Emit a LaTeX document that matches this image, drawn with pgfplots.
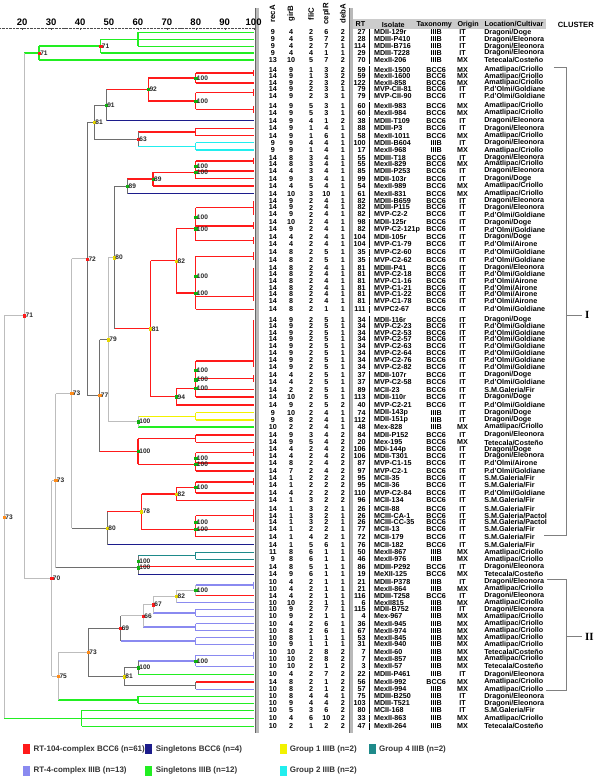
\documentclass[border=0pt]{standalone}
\usepackage{fontspec}
\setmainfont{Liberation Sans}
\newfontfamily\serifI{Liberation Serif}
\usepackage{pgfplots}
\usepackage{pgfplotstable}
\pgfplotsset{compat=1.18}
\definecolor{cR}{HTML}{FF1A1A}
\definecolor{cN}{HTML}{1C1C8C}
\definecolor{cY}{HTML}{F2F200}
\definecolor{cT}{HTML}{1E8A8A}
\definecolor{cL}{HTML}{8A8AF0}
\definecolor{cG}{HTML}{22EE22}
\definecolor{cC}{HTML}{22EEEE}
\definecolor{gD}{HTML}{6E6E6E}
\definecolor{gL}{HTML}{BDBDBD}
\definecolor{dO}{HTML}{FF8C1A}
\definecolor{dY}{HTML}{E8D800}
\definecolor{dG}{HTML}{10B010}
\newcommand\tf{\bfseries\fontsize{7.2}{7.5}\selectfont}
\pgfplotstableread{
y rA gB fC cR dA rt iso tax org loc col
32.5 9 4 2 6 2 27 MDII-129r IIIB IT Dragoni/Doge g
39.5 9 4 5 7 2 28 MDIII-P410 IIIB IT Dragoni/Eleonora g
46.5 9 4 2 7 1 114 MDIII-B716 IIIB IT Dragoni/Eleonora g
53 9 4 4 1 1 29 MDIII-T228 IIIB IT Dragoni/Eleonora g
60 13 10 5 7 2 70 MexII-206 IIIB MX Tetecala/Costeño g
70 14 9 1 3 2 59 MexII-1500 BCC6 MX Amatlipac/Criollo r
76.5 14 9 1 3 2 59 MexII-1600 BCC6 MX Amatlipac/Criollo r
83 14 9 2 3 2 122 MexII-858 BCC6 MX Amatlipac/Criollo r
89.5 14 9 2 3 1 79 MVP-CII-81 BCC6 IT P.d'Olmi/Goldiane r
96 14 9 2 3 1 79 MVP-CII-90 BCC6 IT P.d'Olmi/Goldiane r
106 14 9 5 3 1 60 MexII-983 BCC6 MX Amatlipac/Criollo r
113 14 9 5 3 1 60 MexII-984 BCC6 MX Amatlipac/Criollo r
121 14 9 4 1 2 38 MDIII-T109 BCC6 IT Dragoni/Eleonora n
128.5 14 9 1 4 1 88 MDIII-P3 BCC6 IT Dragoni/Eleonora r
136 14 9 1 6 1 58 MexII-1011 BCC6 MX Amatlipac/Criollo r
143 9 9 4 4 1 100 MDIII-B604 IIIB IT Dragoni/Eleonora c
150.5 9 9 1 4 1 17 MexII-968 IIIB MX Amatlipac/Criollo c
158 14 8 3 4 1 55 MDIII-T18 BCC6 IT Dragoni/Eleonora r
164.5 14 8 3 4 1 55 MexII-829 BCC6 MX Amatlipac/Criollo r
171.5 14 4 3 4 1 85 MDIII-P253 BCC6 IT Dragoni/Eleonora r
179 14 9 3 4 1 99 MDII-103r BCC6 IT Dragoni/Doge r
186.5 14 4 5 4 1 54 MexII-989 BCC6 MX Amatlipac/Criollo r
194 14 10 3 10 1 61 MexII-831 BCC6 MX Amatlipac/Criollo n
201.5 14 9 2 4 1 82 MDIII-B659 BCC6 IT Dragoni/Eleonora r
208 14 9 2 4 1 82 MDIII-P115 BCC6 IT Dragoni/Eleonora r
215 14 9 2 4 1 82 MVP-C2-2 BCC6 IT P.d'Olmi/Goldiane r
223 14 10 2 4 1 98 MDII-125r BCC6 IT Dragoni/Doge r
230 14 9 2 4 1 82 MVP-C2-121p BCC6 IT P.d'Olmi/Goldiane r
237.5 14 4 2 4 1 104 MDII-105r BCC6 IT Dragoni/Doge r
245 14 4 2 4 1 104 MVP-C1-79 BCC6 IT P.d'Olmi/Airone r
253 14 8 2 5 1 35 MVP-C2-60 BCC6 IT P.d'Olmi/Goldiane r
261 14 8 2 5 1 35 MVP-C2-62 BCC6 IT P.d'Olmi/Goldiane r
268.5 14 8 2 4 1 81 MDIII-P41 BCC6 IT Dragoni/Eleonora r
275 14 8 2 4 1 81 MVP-C2-18 BCC6 IT P.d'Olmi/Goldiane r
281.7 14 8 2 4 1 81 MVP-C1-16 BCC6 IT P.d'Olmi/Airone r
288.4 14 8 2 4 1 81 MVP-C1-21 BCC6 IT P.d'Olmi/Airone r
295.1 14 8 2 4 1 81 MVP-C1-22 BCC6 IT P.d'Olmi/Airone r
301.8 14 8 2 4 1 81 MVP-C1-78 BCC6 IT P.d'Olmi/Airone r
310 14 8 2 1 1 111 MVPC2-67 BCC6 IT P.d'Olmi/Goldiane r
320.5 14 9 2 5 1 34 MDII-116r BCC6 IT Dragoni/Doge r
327 14 9 2 5 1 34 MVP-C2-23 BCC6 IT P.d'Olmi/Goldiane r
333.5 14 9 2 5 1 34 MVP-C2-53 BCC6 IT P.d'Olmi/Goldiane r
340 14 9 2 5 1 34 MVP-C2-57 BCC6 IT P.d'Olmi/Goldiane r
346.8 14 9 2 5 1 34 MVP-C2-63 BCC6 IT P.d'Olmi/Goldiane r
353.6 14 9 2 5 1 34 MVP-C2-64 BCC6 IT P.d'Olmi/Goldiane r
360.5 14 9 2 5 1 34 MVP-C2-76 BCC6 IT P.d'Olmi/Goldiane r
367.5 14 9 2 5 1 34 MVP-C2-82 BCC6 IT P.d'Olmi/Goldiane r
376 14 4 2 5 1 37 MDII-107r BCC6 IT Dragoni/Doge r
383 14 4 2 5 1 37 MVP-C2-58 BCC6 IT P.d'Olmi/Goldiane r
390.5 14 2 2 5 1 89 MCII-23 BCC6 IT S.M.Galeria/Fir r
398 14 10 2 5 1 113 MDII-110r BCC6 IT Dragoni/Doge r
406 14 9 2 5 2 40 MVP-C2-21 BCC6 IT P.d'Olmi/Goldiane r
413.5 9 10 2 4 1 74 MDII-143p IIIB IT Dragoni/Doge y
421 9 8 2 4 1 112 MDII-151p IIIB IT Dragoni/Doge y
428 10 2 2 4 1 48 Mex-828 IIIB MX Amatlipac/Criollo g
436 14 9 3 4 2 84 MDII-P152 BCC6 IT Dragoni/Eleonora r
443.5 14 9 5 4 2 20 Mex-195 BCC6 MX Tetecala/Costeño r
450.5 14 4 2 4 2 106 MDi-144p BCC6 IT Dragoni/Doge r
457 14 4 2 4 2 106 MDII-T301 BCC6 IT Dragoni/Eleonora r
464 14 8 2 4 2 87 MVP-C1-15 BCC6 IT P.d'Olmi/Airone r
472 14 7 2 4 2 97 MVP-C2-1 BCC6 IT P.d'Olmi/Goldiane r
479.5 14 1 2 2 2 95 MCII-35 BCC6 IT S.M.Galeria/Fir r
486.5 14 1 2 2 2 95 MCII-36 BCC6 IT S.M.Galeria/Fir r
494 14 4 2 2 2 110 MVP-C2-84 BCC6 IT P.d'Olmi/Goldiane r
501.5 14 1 3 2 2 96 MCII-134 BCC6 IT S.M.Galeria/Fir r
510 14 1 3 2 1 26 MCII-88 BCC6 IT S.M.Galeria/Fir r
516.8 14 1 3 2 1 26 MCIII-CA-1 BCC6 IT S.M.Galeria/Pactol r
523.6 14 1 3 2 1 26 MCIII-CC-35 BCC6 IT S.M.Galeria/Pactol r
530.5 14 1 2 2 1 77 MCII-13 BCC6 IT S.M.Galeria/Fir r
538 14 1 4 2 1 72 MCII-179 BCC6 IT S.M.Galeria/Fir r
546 14 1 5 6 1 76 MCII-182 BCC6 IT S.M.Galeria/Fir n
553.5 11 8 6 1 1 50 MexII-867 IIIB MX Amatlipac/Criollo t
560.5 9 8 6 1 1 46 MexII-976 IIIB MX Amatlipac/Criollo t
568 14 8 5 1 1 86 MDIII-P292 BCC6 IT Dragoni/Eleonora r
575.5 14 9 6 1 1 19 MeXII-125 BCC6 MX Tetecala/Costeño n
583 10 4 2 1 1 21 MDIII-P378 IIIB IT Dragoni/Eleonora l
590 10 4 2 1 1 21 MexII-864 IIIB MX Amatlipac/Criollo l
597 14 4 2 1 1 116 MDIII-T258 BCC6 IT Dragoni/Eleonora r
604 10 10 2 1 1 6 MexII815 IIIB MX Amatlipac/Criollo l
610.8 10 9 2 7 1 115 MDII-B752 IIIB IT Dragoni/Eleonora l
617.8 10 9 2 1 1 4 Mex-967 IIIB MX Amatlipac/Criollo l
625 10 4 2 6 1 36 MexII-945 IIIB MX Amatlipac/Criollo l
632 10 8 2 6 1 67 MexII-974 IIIB MX Amatlipac/Criollo l
639 10 8 1 1 1 53 MexII-845 IIIB MX Amatlipac/Criollo l
646 10 9 1 1 1 31 MexII-940 IIIB MX Amatlipac/Criollo l
653.5 10 10 2 8 2 7 MexII-60 IIIB MX Tetecala/Costeño l
660.5 10 10 2 8 2 7 MexII-857 IIIB MX Amatlipac/Criollo l
668 10 10 2 1 2 3 MexII-57 IIIB MX Tetecala/Costeño l
676 10 4 2 7 2 22 MDIII-P461 IIIB IT Dragoni/Eleonora g
683.5 14 8 2 1 2 56 MexII-992 BCC6 MX Amatlipac/Criollo r
691 10 8 2 1 2 57 MexII-994 IIIB MX Amatlipac/Criollo l
698 10 8 4 4 1 75 MDIII-B250 IIIB IT Dragoni/Eleonora g
705 10 9 4 4 2 103 MDIII-T521 IIIB IT Dragoni/Eleonora g
712 10 5 3 6 2 80 MCII-168 IIIB IT S.M.Galeria/Fir g
720 10 4 6 10 2 33 MexII-863 IIIB MX Amatlipac/Criollo g
728 10 2 1 2 2 47 MexII-264 IIIB MX Tetecala/Costeño g
}\tbl
\pgfplotsset{
  txt/.style={draw=none, mark=none, forget plot, nodes near coords, point meta=explicit symbolic,
    every node near coord/.append style={font=\tf, inner sep=0pt, text=black, anchor=#1}},
  lab/.style={only marks, mark=square*, mark size=1.1pt, draw=#1, fill=#1, forget plot,
    nodes near coords, point meta=explicit symbolic,
    every node near coord/.append style={font=\bfseries\fontsize{6.6}{7}\selectfont, text=black!85, anchor=west, inner sep=1pt}},
  leg/.style={legend image code/.code={\fill[#1] (0pt,-4.5pt) rectangle (6pt,4.5pt);}},
}
\begin{document}
\begin{tikzpicture}[x=1pt,y=1pt]
\begin{axis}[at={(0,0)}, anchor=south west, width=600pt, height=776pt, scale only axis,
  xmin=0, xmax=600, ymin=0, ymax=776, y dir=reverse, hide axis, clip=false,
  legend style={at={(axis cs:23,745)}, anchor=north west, draw=none, fill=none, inner sep=0pt,
    legend columns=4, font=\bfseries\fontsize{8}{9}\selectfont, text=black!80,
    row sep=10pt, column sep=2pt, /tikz/every even column/.append style={column sep=0pt},
    legend cell align=left}]
\path (axis cs:0,0) rectangle (axis cs:600,776);
\fill[gray!55] (axis cs:256,8) rectangle (axis cs:259.5,735);
\draw[gray!80!black, line width=0.4pt] (axis cs:256,8) -- (axis cs:256,735);
\fill[gray!55] (axis cs:350,8) rectangle (axis cs:353.5,735);
\draw[gray!80!black, line width=0.4pt] (axis cs:350,8) -- (axis cs:350,735);
\fill[gray!40] (axis cs:353.5,19.5) rectangle (axis cs:547,29);
\node[rotate=90, font=\bfseries\fontsize{7.8}{8}\selectfont, inner sep=0pt] at (axis cs:273,14) {recA};
\node[rotate=90, font=\bfseries\fontsize{7.8}{8}\selectfont, inner sep=0pt] at (axis cs:291.5,14) {girB};
\node[rotate=90, font=\bfseries\fontsize{7.8}{8}\selectfont, inner sep=0pt] at (axis cs:311.5,14) {fliC};
\node[rotate=90, font=\bfseries\fontsize{7.8}{8}\selectfont, inner sep=0pt] at (axis cs:327,14) {cepIR};
\node[rotate=90, font=\bfseries\fontsize{7.8}{8}\selectfont, inner sep=0pt] at (axis cs:343.5,14) {debA};
\node[font=\tf] at (axis cs:361,24.5) {RT};
\node[font=\tf] at (axis cs:394,24.5) {Isolate};
\node[font=\tf] at (axis cs:435,24.5) {Taxonomy};
\node[font=\tf] at (axis cs:469,24.5) {Origin};
\node[font=\tf] at (axis cs:515,24.5) {Location/Cultivar};
\node[font=\bfseries\fontsize{7.6}{8}\selectfont] at (axis cs:577,24.5) {CLUSTER};
\addplot[txt=center] table[x expr=273.3, y=y, meta=rA] {\tbl};
\addplot[txt=center] table[x expr=291.7, y=y, meta=gB] {\tbl};
\addplot[txt=center] table[x expr=311.7, y=y, meta=fC] {\tbl};
\addplot[txt=center] table[x expr=327, y=y, meta=cR] {\tbl};
\addplot[txt=center] table[x expr=343.5, y=y, meta=dA] {\tbl};
\addplot[txt=east] table[x expr=366.5, y=y, meta=rt] {\tbl};
\addplot[txt=west] table[x expr=374.5, y=y, meta=iso] {\tbl};
\addplot[txt=center] table[x expr=437, y=y, meta=tax] {\tbl};
\addplot[txt=center] table[x expr=463.5, y=y, meta=org] {\tbl};
\addplot[txt=west] table[x expr=485, y=y, meta=loc] {\tbl};
\addplot[scatter, only marks, forget plot, point meta=explicit symbolic, mark=|,
  mark size=3.75pt,
  scatter/classes={
    r={mark options={draw=cR, line width=5.5pt}},
    n={mark options={draw=cN, line width=5.5pt}},
    y={mark options={draw=cY, line width=5.5pt}},
    t={mark options={draw=cT, line width=5.5pt}},
    l={mark options={draw=cL, line width=5.5pt}},
    g={mark options={draw=cG, line width=5.5pt}},
    c={mark options={draw=cC, line width=5.5pt}}}]
  table[x expr=370, y=y, meta=col] {\tbl};
\draw[gray, line width=0.6pt] (axis cs:555,67) -- (axis cs:567,67) -- (axis cs:567,537) -- (axis cs:545,537);
\draw[gray, line width=0.6pt] (axis cs:567,316) -- (axis cs:583,316);
\node[font=\serifI\bfseries\fontsize{11}{12}\selectfont, anchor=west, inner sep=0pt] at (axis cs:586,316) {I};
\draw[gray, line width=0.6pt] (axis cs:548,581) -- (axis cs:567,581) -- (axis cs:567,692) -- (axis cs:547,692);
\draw[gray, line width=0.6pt] (axis cs:567,638) -- (axis cs:583,638);
\node[font=\serifI\bfseries\fontsize{11}{12}\selectfont, anchor=west, inner sep=0pt] at (axis cs:586,638) {II};
\addlegendimage{leg=cR}
\addlegendentry{\makebox[110pt][l]{RT-104-complex BCC6 (n=61)}}
\addlegendimage{leg=cN}
\addlegendentry{\makebox[122pt][l]{Singletons BCC6 (n=4)}}
\addlegendimage{leg=cY}
\addlegendentry{\makebox[77pt][l]{Group 1 IIIB (n=2)}}
\addlegendimage{leg=cT}
\addlegendentry{Group 4 IIIB (n=2)}
\addlegendimage{leg=cL}
\addlegendentry{RT-4-complex IIIB (n=13)}
\addlegendimage{leg=cG}
\addlegendentry{Singletons IIIB (n=12)}
\addlegendimage{leg=cC}
\addlegendentry{Group 2 IIIB (n=2)}
\end{axis}
\begin{axis}[at={(0,0)}, anchor=south west, width=254pt, height=748pt, scale only axis,
  xmin=12.41, xmax=100, ymin=28, ymax=776, y dir=reverse, clip=false,
  axis x line*=top, axis y line=none, unbounded coords=jump,
  xtick={20,30,...,100}, minor x tick num=1,
  x axis line style={densely dotted, black!70, -},
  major tick length=2.5pt, minor tick length=1.5pt, tick style={black!70},
  xticklabel style={font=\bfseries\fontsize{9.5}{9.5}\selectfont, yshift=-1pt},
  /pgf/number format/assume math mode=true]
% green
\addplot[cG, line width=1.4pt, forget plot] coordinates {
(60,32.5)(100,32.5)(100,nan)(60,39.5)(100,39.5)(100,nan)(60,46.5)(100,46.5)(100,nan)
(60,32.5)(60,46.5)(100,nan)(47.14,39.5)(60,39.5)(100,nan)(47.14,53)(100,53)(100,nan)
(47.14,39.5)(47.14,53)(100,nan)(25.86,46.25)(47.14,46.25)(100,nan)(25.86,60)(100,60)(100,nan)
(25.86,46.25)(25.86,60)(100,nan)(20.8,53.1)(25.86,53.1)(100,nan)
(60.1,428)(100,428)(100,nan)(60.1,676)(100,676)(100,nan)
(60.1,698)(100,698)(100,nan)(60.1,705)(100,705)(100,nan)(60.1,698)(60.1,705)(100,nan)(32.52,701.5)(60.1,701.5)(100,nan)
(40.59,712)(100,712)(100,nan)(40.59,720)(100,720)(100,nan)(40.59,728)(100,728)(100,nan)
(40.59,712)(40.59,728)(100,nan)(13.79,720)(40.59,720)};
% red
\addplot[cR, line width=1.4pt, forget plot] coordinates {
(80,73.25)(100,73.25)(100,nan)(80,83)(100,83)(100,nan)(80,73.25)(80,83)(100,nan)
(80,92.75)(100,92.75)(100,nan)(80,109.5)(100,109.5)(100,nan)(80,92.75)(80,109.5)(100,nan)
(63.6,78.1)(80,78.1)(100,nan)(63.6,101.1)(80,101.1)(100,nan)(63.6,78.1)(63.6,101.1)(100,nan)
(49,89.6)(63.6,89.6)(100,nan)
(80,128.5)(100,128.5)(100,nan)(80,136)(100,136)(100,nan)(80,128.5)(80,136)(100,nan)(60.1,132.25)(80,132.25)(100,nan)
(80,161.25)(100,161.25)(100,nan)(80,171.5)(100,171.5)(100,nan)(80,161.25)(80,171.5)(100,nan)
(80,179)(100,179)(100,nan)(80,166.4)(80,179)(100,nan)
(65.2,172.7)(80,172.7)(100,nan)(65.2,186.5)(100,186.5)(100,nan)(65.2,172.7)(65.2,186.5)(100,nan)
(56.4,179.6)(65.2,179.6)(100,nan)
(80,208.25)(100,208.25)(100,nan)(80,226.5)(100,226.5)(100,nan)(80,208.25)(80,226.5)(100,nan)
(80,241.25)(100,241.25)(100,nan)(80,217.4)(80,241.25)(100,nan)
(80,257)(100,257)(100,nan)(80,297)(100,297)(100,nan)(80,257)(80,297)(100,nan)
(80,310)(100,310)(100,nan)(80,277)(80,310)(100,nan)
(73.34,229.3)(80,229.3)(100,nan)(73.34,293.5)(80,293.5)(100,nan)(73.34,229.3)(73.34,293.5)(100,nan)
(64.38,261.4)(73.34,261.4)(100,nan)
(80,362)(100,362)(100,nan)(80,379.5)(100,379.5)(100,nan)(80,362)(80,379.5)(100,nan)
(80,390.5)(100,390.5)(100,nan)(80,370.75)(80,390.5)(100,nan)
(80,398)(100,398)(100,nan)(80,380.6)(80,398)(100,nan)
(73.34,389.3)(80,389.3)(100,nan)(73.34,406)(100,406)(100,nan)(73.34,389.3)(73.34,406)(100,nan)
(64.38,397.7)(73.34,397.7)(100,nan)(64.38,261.4)(64.38,397.7)(100,nan)
(51.83,329.5)(64.38,329.5)(100,nan)
(80,436)(100,436)(100,nan)(80,443.5)(100,443.5)(100,nan)(80,436)(80,443.5)(100,nan)
(80,453.75)(100,453.75)(100,nan)(80,464)(100,464)(100,nan)(80,453.75)(80,464)(100,nan)
(80,472)(100,472)(100,nan)(80,458.9)(80,472)(100,nan)
(60.1,439.75)(80,439.75)(100,nan)(60.1,465.4)(80,465.4)(100,nan)(60.1,439.75)(60.1,465.4)(100,nan)
(46.79,452.6)(60.1,452.6)(100,nan)
(80,483)(100,483)(100,nan)(80,494)(100,494)(100,nan)(80,483)(80,494)(100,nan)
(73.34,488.5)(80,488.5)(100,nan)(73.34,501.5)(100,501.5)(100,nan)(73.34,488.5)(73.34,501.5)(100,nan)
(80,516.8)(100,516.8)(100,nan)(80,530.5)(100,530.5)(100,nan)(80,516.8)(80,530.5)(100,nan)
(80,538)(100,538)(100,nan)(80,523.6)(80,538)(100,nan)
(61.28,495)(73.34,495)(100,nan)(61.28,530.8)(80,530.8)(100,nan)(61.28,495)(61.28,530.8)(100,nan)
(49.41,512.9)(61.28,512.9)(100,nan)
(60.1,568)(100,568)(100,nan)(80,597)(100,597)(100,nan)(80,683.5)(100,683.5)};
\addplot[cR, line width=1.7pt, forget plot] coordinates {
(100,70)(100,76.5)(100,nan)(100,89.5)(100,96)(100,nan)(100,106)(100,113)(100,nan)
(100,158)(100,164.5)(100,nan)(100,201.5)(100,215)(100,nan)(100,223)(100,230)(100,nan)
(100,237.5)(100,245)(100,nan)(100,253)(100,261)(100,nan)(100,268.5)(100,301.8)(100,nan)
(100,320.5)(100,367.5)(100,nan)(100,376)(100,383)(100,nan)(100,450.5)(100,457)(100,nan)
(100,479.5)(100,486.5)(100,nan)(100,510)(100,523.6)};
\addplot[cL, line width=1.7pt, forget plot] coordinates {(100,583)(100,590)(100,nan)(100,653.5)(100,660.5)};
% navy
\addplot[cN, line width=1.3pt, forget plot] coordinates {
(49,121)(100,121)(100,nan)(56.4,194)(100,194)(100,nan)(49.41,546)(100,546)(100,nan)(60.1,575.5)(100,575.5)};
% cyan
\addplot[cC, line width=1.4pt, forget plot] coordinates {
(80,143)(100,143)(100,nan)(80,150.5)(100,150.5)(100,nan)(80,143)(80,150.5)(100,nan)(60.1,146.75)(80,146.75)};
% yellow
\addplot[cY, line width=1.4pt, forget plot] coordinates {
(80,413.5)(100,413.5)(100,nan)(80,421)(100,421)(100,nan)(80,413.5)(80,421)(100,nan)(60.1,417.25)(80,417.25)};
% teal
\addplot[cT, line width=1.4pt, forget plot] coordinates {
(80,553.5)(100,553.5)(100,nan)(80,560.5)(100,560.5)(100,nan)(80,553.5)(80,560.5)(100,nan)(60.1,557)(80,557)};
% lavender
\addplot[cL, line width=1.4pt, forget plot] coordinates {
(80,586.5)(100,586.5)(100,nan)(73.34,604)(100,604)(100,nan)
(80,610.8)(100,610.8)(100,nan)(80,617.8)(100,617.8)(100,nan)(80,610.8)(80,617.8)(100,nan)(65.28,614.3)(80,614.3)(100,nan)
(80,625)(100,625)(100,nan)(80,632)(100,632)(100,nan)(80,625)(80,632)(100,nan)(61.83,628.5)(80,628.5)(100,nan)
(80,639)(100,639)(100,nan)(80,646)(100,646)(100,nan)(80,639)(80,646)(100,nan)(54.03,642.5)(80,642.5)(100,nan)
(80,657)(100,657)(100,nan)(80,668)(100,668)(100,nan)(80,657)(80,668)(100,nan)(60.1,662.5)(80,662.5)(100,nan)
(80,691)(100,691)};
% dark grey
\addplot[gD, line width=1pt, forget plot] coordinates {
(49,89.6)(49,121)(100,nan)(60.1,132.25)(60.1,146.75)(100,nan)
(44.9,105.3)(49,105.3)(100,nan)(44.9,139.5)(60.1,139.5)(100,nan)(44.9,105.3)(44.9,139.5)(100,nan)
(56.4,179.6)(56.4,194)(100,nan)(51.83,186.8)(56.4,186.8)(100,nan)(51.83,186.8)(51.83,329.5)(100,nan)
(42.52,122.4)(44.9,122.4)(100,nan)(42.52,122.4)(42.52,396.5)(100,nan)
(46.79,340.4)(49.76,340.4)(100,nan)(46.79,340.4)(46.79,452.6)(100,nan)(42.52,396.5)(46.79,396.5)(100,nan)
(37.14,529.45)(49.41,529.45)(100,nan)(49.41,512.9)(49.41,546)(100,nan)
(60.1,557)(60.1,575.5)(100,nan)(31.62,569)(60.1,569)(100,nan)
(54.03,617.4)(54.03,642.5)(100,nan)
(55.28,669.25)(60.1,669.25)(100,nan)(55.28,669.25)(55.28,687.25)(100,nan)(55.28,687.25)(80,687.25)(100,nan)
(80,683.5)(80,691)(100,nan)(60.1,662.5)(60.1,676)(100,nan)
(42.86,630)(54.03,630)(100,nan)(42.86,678.25)(55.28,678.25)(100,nan)(42.86,630)(42.86,678.25)};
% light grey
\addplot[gL, line width=1pt, forget plot] coordinates {
(20.8,53.1)(20.8,579.75)(100,nan)(13.79,316.4)(20.8,316.4)(100,nan)(13.79,316.4)(13.79,720)(100,nan)
(20.8,579.75)(30.24,579.75)(100,nan)(30.24,481.7)(30.24,677.8)(100,nan)
(30.24,481.7)(31.62,481.7)(100,nan)(31.62,394.45)(31.62,569)(100,nan)
(31.62,394.45)(37.14,394.45)(100,nan)(37.14,259.45)(37.14,529.45)(100,nan)
(37.14,259.45)(42.52,259.45)(100,nan)
(49.76,258.2)(51.83,258.2)(100,nan)(49.76,258.2)(49.76,422.6)(100,nan)(49.76,422.6)(60.1,422.6)(100,nan)
(60.1,417.25)(60.1,428)(100,nan)
(30.24,677.8)(32.52,677.8)(100,nan)(32.52,654.1)(32.52,701.5)(100,nan)(32.52,654.1)(42.86,654.1)(100,nan)
(80,586.5)(80,597)(100,nan)(73.34,591.75)(80,591.75)(100,nan)(73.34,591.75)(73.34,604)(100,nan)
(65.28,597.9)(73.34,597.9)(100,nan)(65.28,597.9)(65.28,614.3)(100,nan)
(61.83,606.1)(65.28,606.1)(100,nan)(61.83,606.1)(61.83,628.5)(100,nan)
(54.03,617.4)(61.83,617.4)};
% node labels
\addplot[lab=cR] table[meta=l] {
x y l
25.86 53.1 71
47.14 46.25 71
60.1 139.5 63
42.52 259.45 72
20.8 316.4 71
30.24 579.75 70
65.28 606.1 67
61.83 617.4 66
54.03 630 69
};
\addplot[lab=dO] table[meta=l] {
x y l
13.79 518.2 73
37.14 394.45 73
31.62 481.7 73
42.86 654.1 73
32.52 677.8 75
46.79 396.5 77
};
\addplot[lab=dY] table[meta=l] {
x y l
44.9 122.4 81
51.83 258.2 80
73.34 261.4 82
64.38 329.5 81
49.76 340.4 79
49.41 529.45 80
61.28 512.9 78
73.34 495 82
73.34 597.9 82
55.28 678.25 81
};
\addplot[lab=dG] table[meta=l] {
x y l
80 78.1 100
80 101.1 100
63.6 89.6 92
49 105.3 91
80 166.4 100
80 172.7 100
65.2 179.6 89
56.4 186.8 89
80 217.4 100
80 229.3 100
80 277 100
80 293.5 100
80 370.75 100
80 380.6 100
80 389.3 100
73.34 397.7 94
60.1 422.6 100
60.1 452.6 100
80 458.9 100
80 465.4 100
80 488.5 100
80 523.6 100
80 530.8 100
60.1 562.5 100
60.1 569 100
80 591.75 100
80 662.5 100
60.1 669.25 100
};
\end{axis}
\end{tikzpicture}
\end{document}
